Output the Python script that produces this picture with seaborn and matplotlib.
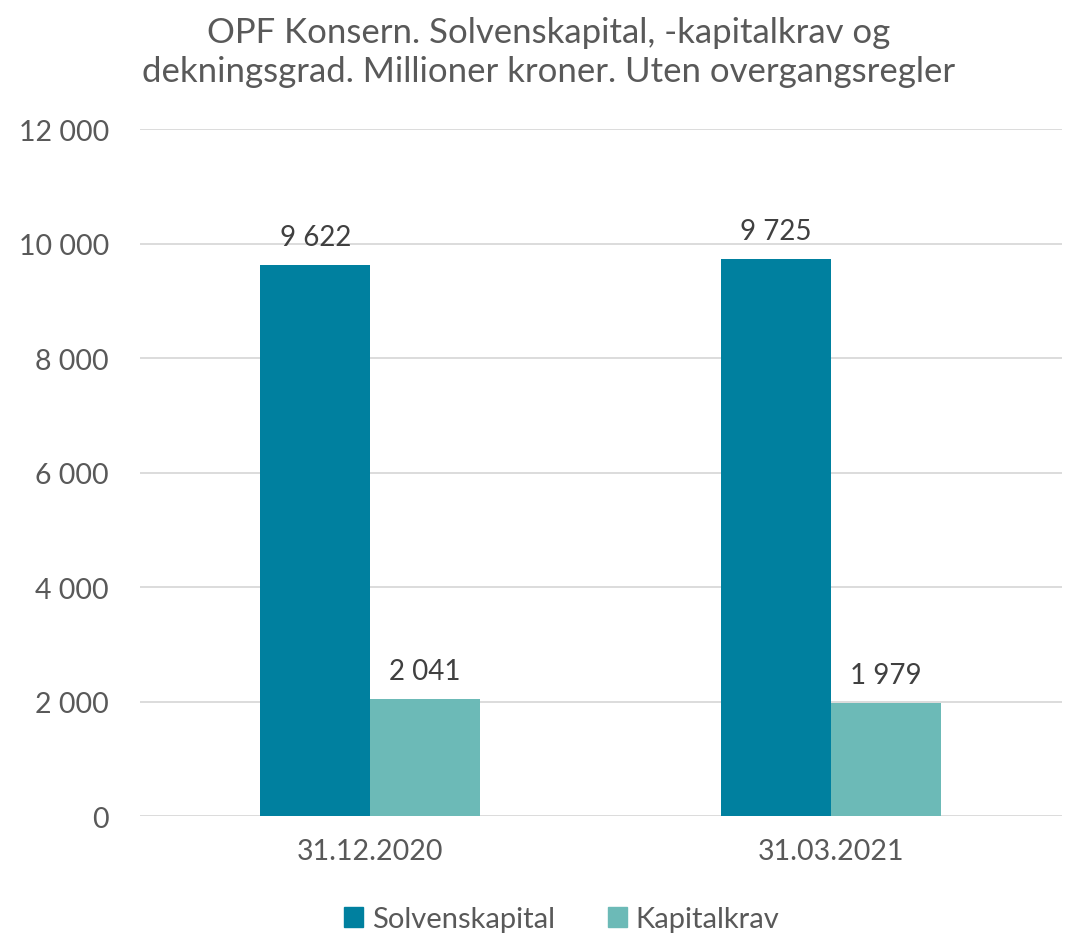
import matplotlib
matplotlib.use("Agg")
import matplotlib.pyplot as plt
import matplotlib.ticker as mticker
import pandas as pd
import seaborn as sns

# ── data ────────────────────────────────────────────────────────────
dates = ["31.12.2020", "31.03.2021"]
series = ["Solvenskapital", "Kapitalkrav"]
solvenskapital = [9622, 9725]
kapitalkrav = [2041, 1979]

colors = {"Solvenskapital": "#00809F", "Kapitalkrav": "#6CBAB7"}
TEXT = "#595959"

df = pd.DataFrame({
    "dato": dates * 2,
    "serie": [series[0]] * 2 + [series[1]] * 2,
    "verdi": solvenskapital + kapitalkrav,
})

sns.set_theme(style="white")
plt.rcParams["font.family"] = ["Lato", "DejaVu Sans"]

fig = plt.figure(figsize=(10.66, 9.37), dpi=100)
ax = fig.add_axes([0.131, 0.128, 0.865, 0.733])

sns.barplot(data=df, x="dato", y="verdi", hue="serie", hue_order=series,
            palette=colors, width=0.477, saturation=1, ax=ax, legend=False,
            edgecolor="none", linewidth=0)

fmt = lambda v: f"{v:,.0f}".replace(",", " ")
for cont in ax.containers:
    ax.bar_label(cont, labels=[fmt(v) for v in cont.datavalues], padding=11,
                 fontsize=20, color="#404040")

ax.set_ylim(0, 12000)
ax.yaxis.set_major_locator(mticker.MultipleLocator(2000))
ax.yaxis.set_major_formatter(mticker.FuncFormatter(lambda v, p: fmt(v)))
ax.grid(axis="y", color="#D9D9D9", linewidth=1.3)
ax.set_axisbelow(True)
for s in ax.spines.values():
    s.set_visible(False)
ax.tick_params(axis="both", length=0, labelcolor=TEXT, labelsize=20.5)
ax.tick_params(axis="x", pad=16)
ax.tick_params(axis="y", pad=22)
ax.set_xlabel("")
ax.set_ylabel("")

fig.text(0.515, 0.944, "OPF Konsern. Solvenskapital, -kapitalkrav og\n"
         "dekningsgrad. Millioner kroner. Uten overgangsregler",
         ha="center", va="center", fontsize=25, color=TEXT, linespacing=1.25)

handles = [plt.Rectangle((0, 0), 1, 1, color=colors[s]) for s in series]
fig.legend(handles, series, loc="center", bbox_to_anchor=(0.527, 0.018),
           ncol=2, frameon=False, fontsize=21, labelcolor=TEXT,
           handlelength=0.65, handleheight=0.65, handletextpad=0.3,
           columnspacing=1.8)

fig.savefig("out.png", dpi=100)
